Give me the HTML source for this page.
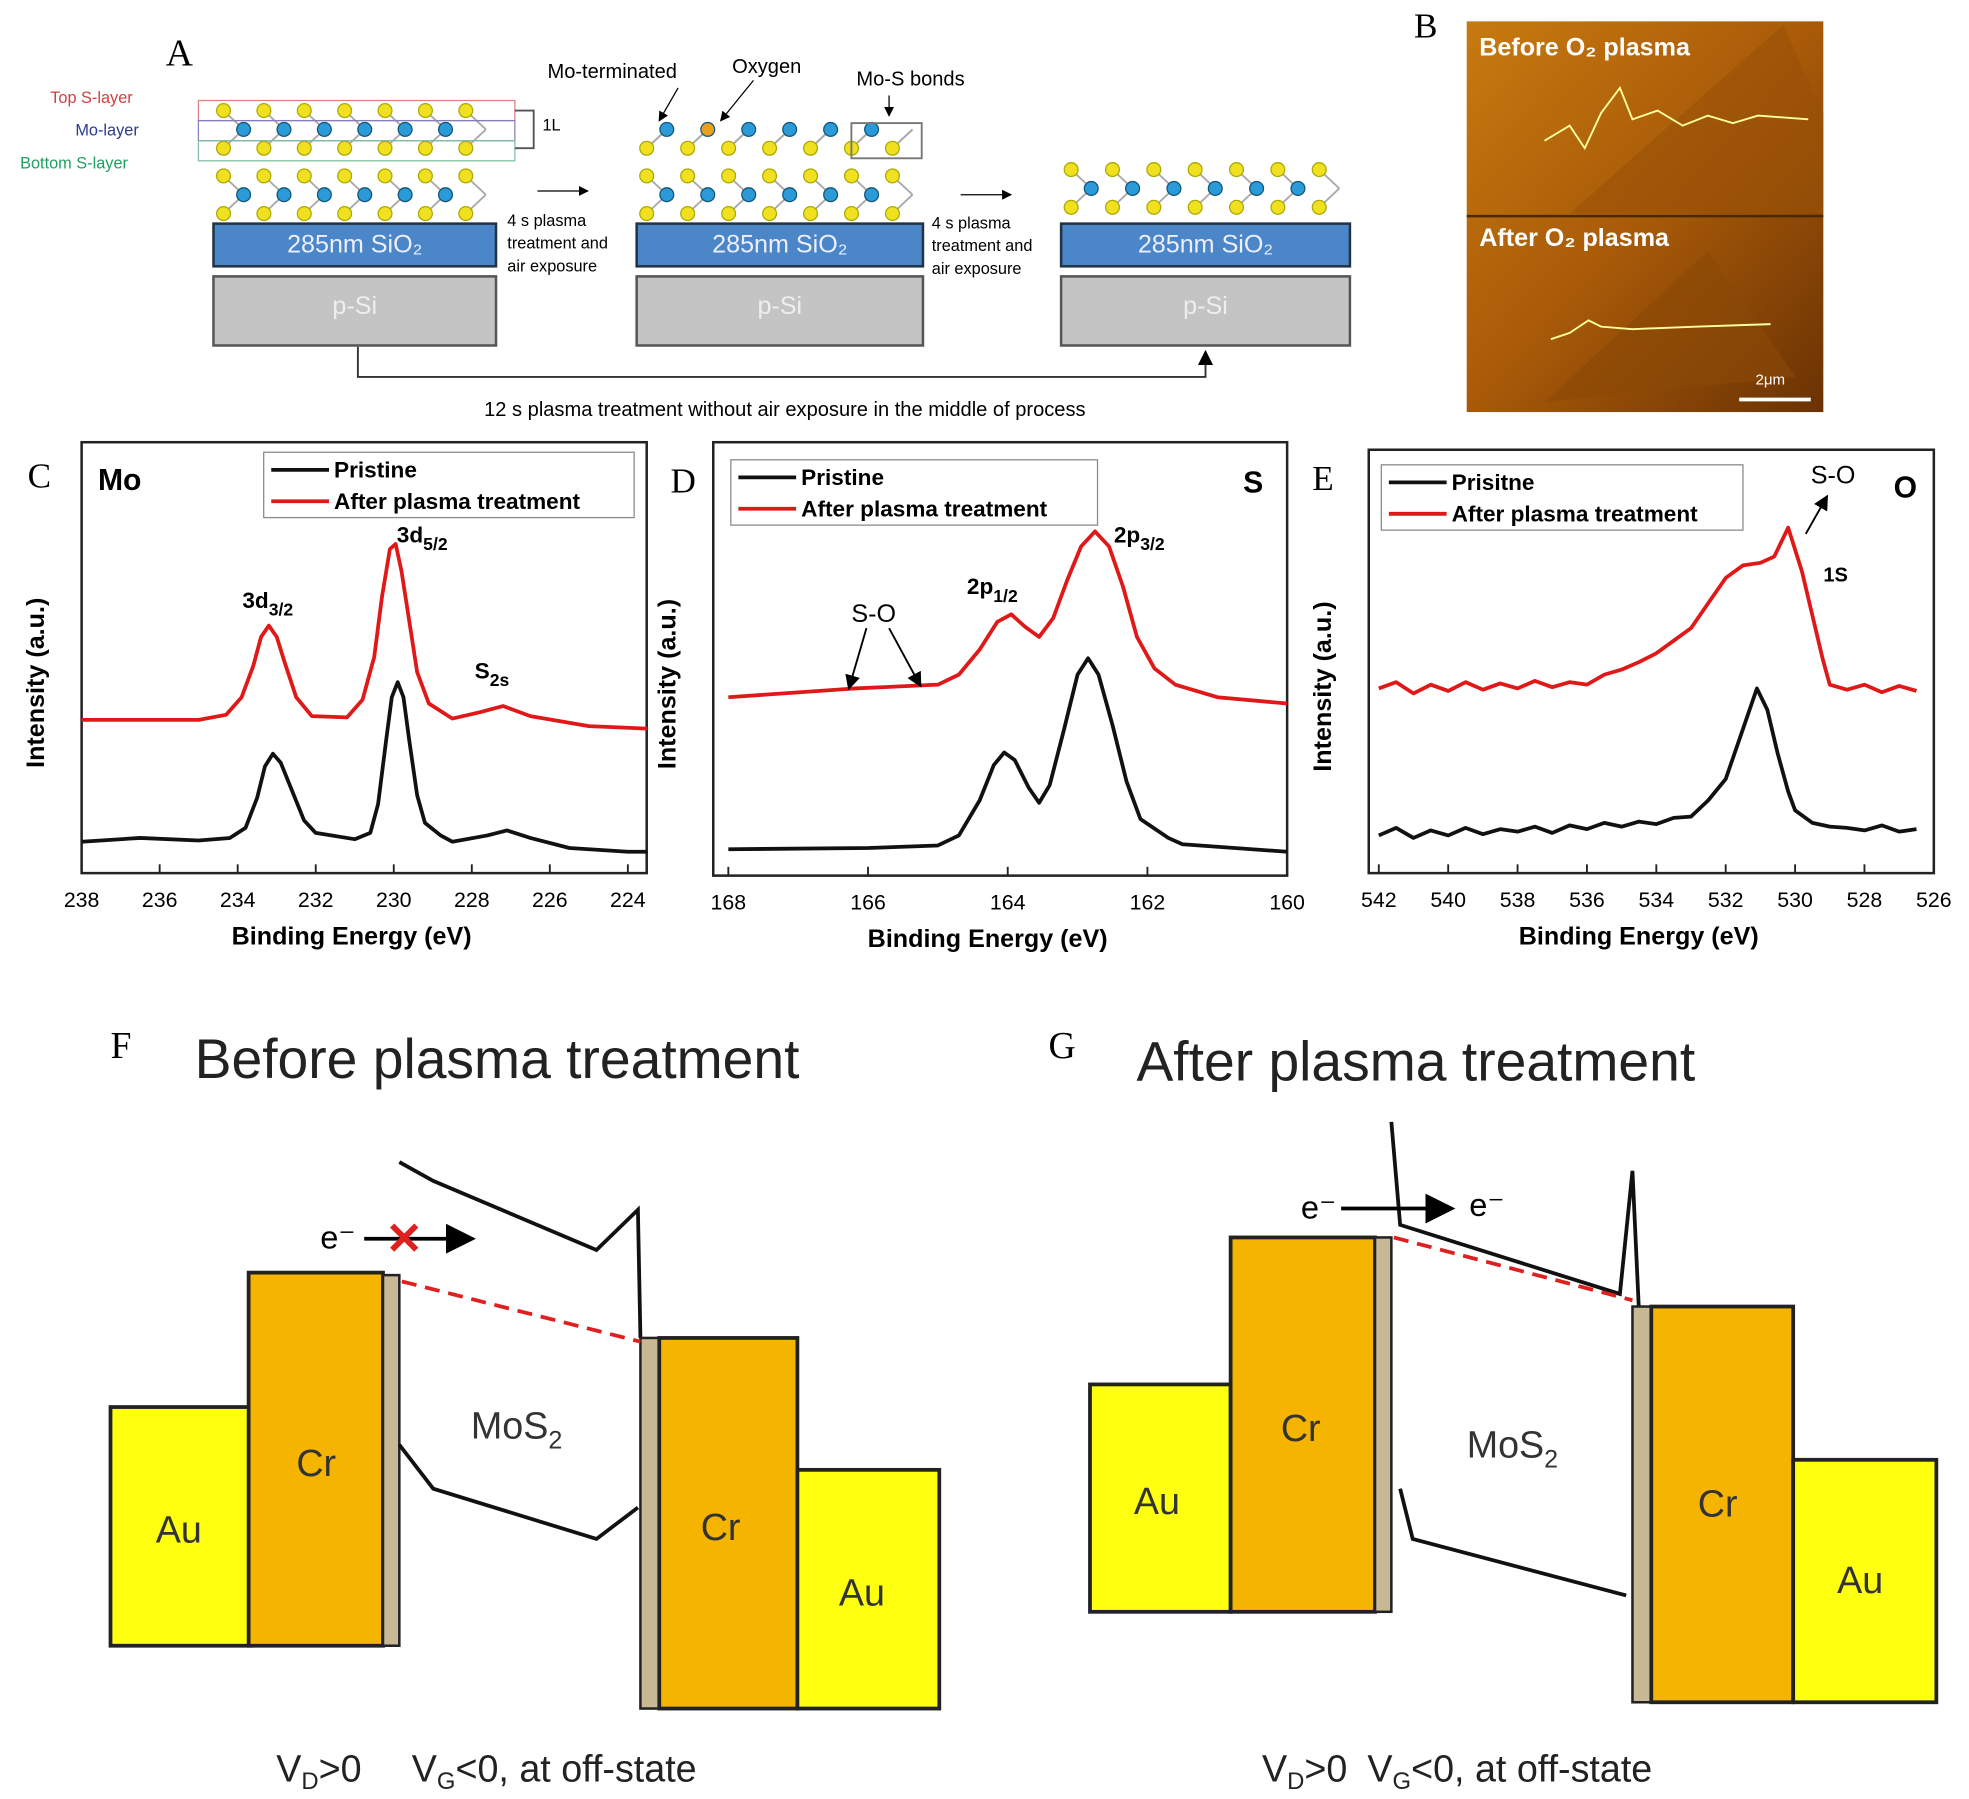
<!DOCTYPE html>
<html><head><meta charset="utf-8"><style>
html,body{margin:0;padding:0;background:#fff}
svg{display:block;font-family:"Liberation Sans",Arial,sans-serif}
</style></head><body>
<svg id="fig" width="1969" height="1799" viewBox="0 0 1568 1432" preserveAspectRatio="none" xmlns="http://www.w3.org/2000/svg">
<defs>
<linearGradient id="afm" x1="0" y1="0" x2="1" y2="1"><stop offset="0" stop-color="#c87a10"/><stop offset="0.5" stop-color="#a85a08"/><stop offset="1" stop-color="#6a3204"/></linearGradient>
<marker id="arr" markerWidth="8" markerHeight="8" refX="7" refY="4" orient="auto"><path d="M0,0 L8,4 L0,8 z" fill="#000"/></marker>
</defs>

<g>
<text x="132" y="52" font-family="Liberation Serif,serif" font-size="30">A</text>
<g id="structs"></g>
<text x="40" y="82" font-size="13" fill="#d04040">Top S-layer</text>
<text x="60" y="108" font-size="13" fill="#2a3a90">Mo-layer</text>
<text x="16" y="134" font-size="13" fill="#20a060">Bottom S-layer</text>
<text x="432" y="104" font-size="13">1L</text>
<path d="M410,88 H425 V118 H410" fill="none" stroke="#555" stroke-width="1.5"/>
<text x="436" y="62" font-size="16">Mo-terminated</text>
<text x="583" y="58" font-size="16">Oxygen</text>
<text x="682" y="68" font-size="16">Mo-S bonds</text>
<rect x="678" y="98" width="56" height="28" fill="none" stroke="#777" stroke-width="1.5"/>
<line x1="540" y1="70" x2="525" y2="96" stroke="#000" marker-end="url(#arr)"/>
<line x1="600" y1="64" x2="574" y2="96" stroke="#000" marker-end="url(#arr)"/>
<line x1="708" y1="76" x2="708" y2="92" stroke="#000" marker-end="url(#arr)"/>
<line x1="428" y1="152" x2="468" y2="152" stroke="#000" marker-end="url(#arr)"/>
<line x1="765" y1="155" x2="805" y2="155" stroke="#000" marker-end="url(#arr)"/>
<text font-size="13"><tspan x="404" y="180">4 s plasma</tspan><tspan x="404" y="198">treatment and</tspan><tspan x="404" y="216">air exposure</tspan></text>
<text font-size="13"><tspan x="742" y="182">4 s plasma</tspan><tspan x="742" y="200">treatment and</tspan><tspan x="742" y="218">air exposure</tspan></text>
<path d="M285,276 V300 H960 V280" fill="none" stroke="#333" stroke-width="1.5" marker-end="url(#arr)"/>
<text x="625" y="331" font-size="16" text-anchor="middle">12 s plasma treatment without air exposure in the middle of process</text>
</g>

<g>
<text x="1126" y="30" font-family="Liberation Serif,serif" font-size="28">B</text>
<rect x="1168" y="17" width="284" height="311" fill="url(#afm)"/>
<path d="M1250,170 L1420,20 L1452,90 L1452,170 Z" fill="#9a5208" opacity="0.6"/>
<path d="M1230,320 L1360,200 L1430,300 Z" fill="#8a4a06" opacity="0.6"/>
<line x1="1168" y1="172" x2="1452" y2="172" stroke="#4a2a04" stroke-width="2"/>
<text x="1178" y="44" font-size="20" font-weight="bold" fill="#fff">Before O₂ plasma</text>
<text x="1178" y="196" font-size="20" font-weight="bold" fill="#fff">After O₂ plasma</text>
<polyline points="1230,112 1250,100 1262,118 1275,90 1290,70 1300,95 1320,88 1340,100 1360,92 1380,98 1400,92 1440,95" fill="none" stroke="#ffffa0" stroke-width="1.5"/>
<polyline points="1235,270 1250,265 1265,255 1275,260 1300,262 1350,260 1410,258" fill="none" stroke="#ffffa0" stroke-width="1.5"/>
<line x1="1385" y1="318" x2="1442" y2="318" stroke="#fff" stroke-width="3"/>
<text x="1398" y="306" font-size="12" fill="#fff">2μm</text>
</g>

<g id="charts"></g>

<g>
<text x="88" y="842" font-family="Liberation Serif,serif" font-size="30">F</text>
<text x="155" y="858" font-size="44" fill="#222">Before plasma treatment</text>
<rect x="88" y="1120" width="112" height="190" fill="#ffff10" stroke="#222" stroke-width="3"/>
<rect x="198" y="1013" width="107" height="297" fill="#f5b400" stroke="#222" stroke-width="3"/>
<rect x="305" y="1015" width="13" height="295" fill="#c8b896" stroke="#222" stroke-width="2"/>
<path d="M318,925 L345,940 L475,995 L508,963 L510,1065" fill="none" stroke="#111" stroke-width="3"/>
<path d="M318,1150 L345,1185 L475,1225 L508,1200" fill="none" stroke="#111" stroke-width="3"/>
<rect x="510" y="1065" width="15" height="295" fill="#c8b896" stroke="#222" stroke-width="2"/>
<rect x="525" y="1065" width="110" height="295" fill="#f5b400" stroke="#222" stroke-width="3"/>
<rect x="635" y="1170" width="113" height="190" fill="#ffff10" stroke="#222" stroke-width="3"/>
<line x1="320" y1="1020" x2="510" y2="1068" stroke="#e02020" stroke-width="3" stroke-dasharray="12,7"/>
<text x="255" y="994" font-size="26">e⁻</text>
<line x1="290" y1="986" x2="376" y2="986" stroke="#000" stroke-width="3" marker-end="url(#arr)"/>
<text x="322" y="998" font-size="36" fill="#e02020" text-anchor="middle" font-weight="bold">✕</text>
<text x="375" y="1145" font-size="30" fill="#333">MoS<tspan font-size="20" dy="8">2</tspan></text>
<text x="236" y="1175" font-size="30" fill="#333">Cr</text>
<text x="124" y="1228" font-size="30" fill="#333">Au</text>
<text x="558" y="1226" font-size="30" fill="#333">Cr</text>
<text x="668" y="1278" font-size="30" fill="#333">Au</text>
<text x="220" y="1418" font-size="30" fill="#222">V<tspan font-size="19" dy="6">D</tspan><tspan dy="-6">&gt;0</tspan><tspan dx="40">V</tspan><tspan font-size="19" dy="6">G</tspan><tspan dy="-6">&lt;0, at off-state</tspan></text>
</g>

<g>
<text x="835" y="842" font-family="Liberation Serif,serif" font-size="30">G</text>
<text x="905" y="860" font-size="44" fill="#222">After plasma treatment</text>
<rect x="868" y="1102" width="112" height="181" fill="#ffff10" stroke="#222" stroke-width="3"/>
<rect x="980" y="985" width="115" height="298" fill="#f5b400" stroke="#222" stroke-width="3"/>
<rect x="1095" y="985" width="13" height="298" fill="#c8b896" stroke="#222" stroke-width="2"/>
<path d="M1108,893 L1115,975 L1290,1030 L1300,932 L1305,1040" fill="none" stroke="#111" stroke-width="3"/>
<path d="M1115,1185 L1125,1225 L1295,1270" fill="none" stroke="#111" stroke-width="3"/>
<rect x="1300" y="1040" width="15" height="315" fill="#c8b896" stroke="#222" stroke-width="2"/>
<rect x="1315" y="1040" width="113" height="315" fill="#f5b400" stroke="#222" stroke-width="3"/>
<rect x="1428" y="1162" width="114" height="193" fill="#ffff10" stroke="#222" stroke-width="3"/>
<line x1="1110" y1="985" x2="1300" y2="1035" stroke="#e02020" stroke-width="3" stroke-dasharray="12,7"/>
<text x="1036" y="970" font-size="26">e⁻</text>
<line x1="1068" y1="962" x2="1156" y2="962" stroke="#000" stroke-width="3" marker-end="url(#arr)"/>
<text x="1170" y="968" font-size="26">e⁻</text>
<text x="1168" y="1160" font-size="30" fill="#333">MoS<tspan font-size="20" dy="8">2</tspan></text>
<text x="1020" y="1147" font-size="30" fill="#333">Cr</text>
<text x="903" y="1205" font-size="30" fill="#333">Au</text>
<text x="1352" y="1207" font-size="30" fill="#333">Cr</text>
<text x="1463" y="1268" font-size="30" fill="#333">Au</text>
<text x="1005" y="1418" font-size="30" fill="#222">V<tspan font-size="19" dy="6">D</tspan><tspan dy="-6">&gt;0</tspan><tspan dx="16">V</tspan><tspan font-size="19" dy="6">G</tspan><tspan dy="-6">&lt;0, at off-state</tspan></text>
</g>
</svg>
<script>
// ---- chart data ----
const moTicks = [238,236,234,232,230,228,226,224];
const moPristine = [[238,25],[236.5,28],[235,26],[234.2,28],[233.8,36],[233.5,60],[233.3,85],[233.1,95],[232.9,88],[232.6,65],[232.3,42],[232,32],[231,27],[230.6,32],[230.4,55],[230.2,105],[230.05,140],[229.9,152],[229.75,140],[229.6,105],[229.4,62],[229.2,40],[228.8,30],[228.5,25],[227.6,30],[227.1,34],[226.5,28],[225.5,20],[224,17],[223.5,17]];
const moPlasma = [[238,122],[235,122],[234.3,126],[233.9,140],[233.6,165],[233.4,188],[233.2,197],[233,188],[232.8,168],[232.5,140],[232.1,125],[231.2,124],[230.8,138],[230.5,172],[230.3,220],[230.1,258],[229.95,262],[229.8,240],[229.6,200],[229.4,160],[229.1,135],[228.5,123],[227.8,128],[227.2,133],[226.5,125],[225,117],[223.5,115]];
const sTicks = [168,166,164,162,160];
const sPristine = [[168,21],[166,22],[165,24],[164.7,32],[164.4,60],[164.2,88],[164.05,98],[163.9,92],[163.7,70],[163.55,58],[163.4,72],[163.2,115],[163,160],[162.85,173],[162.7,160],[162.5,120],[162.3,75],[162.1,45],[161.7,30],[161.5,25],[160,19]];
const sPlasma = [[168,142],[166.2,149],[165,152],[164.7,160],[164.4,180],[164.15,202],[163.95,208],[163.75,198],[163.55,190],[163.35,205],[163.15,235],[162.95,262],[162.75,274],[162.55,262],[162.35,230],[162.15,190],[161.9,165],[161.6,152],[161,142],[160,137]];
const oTicks = [542,540,538,536,534,532,530,528,526];
const oPristine = [[542,30],[541.5,36],[541,28],[540.5,34],[540,30],[539.5,36],[539,31],[538.5,35],[538,33],[537.5,37],[537,32],[536.5,38],[536,35],[535.5,40],[535,37],[534.5,41],[534,39],[533.5,44],[533,45],[532.5,58],[532,75],[531.5,115],[531.1,147],[530.8,130],[530.5,95],[530.2,65],[530,50],[529.5,40],[529,37],[528.5,36],[528,34],[527.5,38],[527,33],[526.5,35]];
const oPlasma = [[542,147],[541.5,152],[541,143],[540.5,150],[540,145],[539.5,152],[539,146],[538.5,151],[538,147],[537.5,153],[537,148],[536.5,152],[536,150],[535.5,158],[535,162],[534.5,168],[534,175],[533.5,185],[533,195],[532.5,215],[532,235],[531.5,245],[531,247],[530.6,252],[530.2,275],[529.8,240],[529.5,205],[529.2,170],[529,150],[528.5,146],[528,150],[527.5,144],[527,149],[526.5,145]];

const NS='http://www.w3.org/2000/svg';
function mk(tag, attrs, parent){const e=document.createElementNS(NS,tag);for(const k in attrs)e.setAttribute(k,attrs[k]);parent.appendChild(e);return e;}
const charts=document.getElementById('charts');

function chart(cfg){
  const g=mk('g',{},charts);
  
  
  const xS=v=>cfg.x0+(cfg.e0-v)*(cfg.x1-cfg.x0)/(cfg.e0-cfg.e1);
  const yS=v=>cfg.yb-v;
  const frame=mk('rect',{x:cfg.L,y:cfg.T,width:cfg.R-cfg.L,height:cfg.yb-cfg.T,fill:'none',stroke:'#222','stroke-width':2},g);
  
  
  cfg.ticks.forEach(t=>{
    const x=xS(t);
    mk('line',{x1:x,y1:cfg.yb,x2:x,y2:cfg.yb-7,stroke:'#222','stroke-width':1.5},g);
    const tl=mk('text',{x:x,y:cfg.yb+27,'font-size':17,'text-anchor':'middle'},g);
    tl.textContent=t;
    
    
  });
  const xt=mk('text',{x:(cfg.L+cfg.R)/2-10,y:cfg.yb+57,'font-size':20,'font-weight':'bold','text-anchor':'middle'},g);
  xt.textContent='Binding Energy (eV)';
  
  
  const yt=mk('text',{x:0,y:0,'font-size':20,'font-weight':'bold','text-anchor':'middle',transform:`translate(${cfg.L-30},${(cfg.T+cfg.yb)/2+20}) rotate(-90)`},g);
  yt.textContent='Intensity (a.u.)';
  
  
  [[cfg.black,'#111','pristine-line'],[cfg.red,'#e01818','plasma-line']].forEach(([d,c,n])=>{
    const p=mk('polyline',{points:d.map(q=>xS(q[0]).toFixed(1)+','+yS(q[1]).toFixed(1)).join(' '),fill:'none',stroke:c,'stroke-width':3,'stroke-linejoin':'round'},g);
    
    
  });
  const lg=mk('g',{},g);
  
  
  mk('rect',{x:cfg.lx,y:cfg.ly,width:cfg.lw,height:52,fill:'#fff',stroke:'#888','stroke-width':1},lg);
  mk('line',{x1:cfg.lx+6,y1:cfg.ly+14,x2:cfg.lx+52,y2:cfg.ly+14,stroke:'#111','stroke-width':3},lg);
  mk('line',{x1:cfg.lx+6,y1:cfg.ly+39,x2:cfg.lx+52,y2:cfg.ly+39,stroke:'#e01818','stroke-width':3},lg);
  const a=mk('text',{x:cfg.lx+56,y:cfg.ly+20,'font-size':18,'font-weight':'bold'},lg);a.textContent=cfg.l1;
  const b=mk('text',{x:cfg.lx+56,y:cfg.ly+45,'font-size':18,'font-weight':'bold'},lg);b.textContent='After plasma treatment';
  const pl=mk('text',{x:cfg.px,y:cfg.py,'font-family':'Liberation Serif,serif','font-size':28},g);pl.textContent=cfg.letter;
  
  
  const el=mk('text',{x:cfg.ex,y:cfg.ey,'font-size':24,'font-weight':'bold'},g);el.textContent=cfg.elem;
  
  
  return g;
}
const gC=chart({name:'chart-mo',L:65,R:515,T:352,yb:695,x0:65,x1:500,e0:238,e1:224,ticks:moTicks,black:moPristine,red:moPlasma,lx:210,ly:360,lw:295,l1:'Pristine',letter:'C',px:22,py:388,elem:'Mo',ex:78,ey:390});
const gD=chart({name:'chart-s',L:568,R:1025,T:352,yb:697,x0:580,x1:1025,e0:168,e1:160,ticks:sTicks,black:sPristine,red:sPlasma,lx:582,ly:366,lw:292,l1:'Pristine',letter:'D',px:534,py:392,elem:'S',ex:990,ey:392});
const gE=chart({name:'chart-o',L:1090,R:1540,T:358,yb:695,x0:1098,x1:1540,e0:542,e1:526,ticks:oTicks,black:oPristine,red:oPlasma,lx:1100,ly:370,lw:288,l1:'Prisitne',letter:'E',px:1045,py:390,elem:'O',ex:1508,ey:396});
function ann(g,x,y,t,sub,fs){const e=mk('text',{x:x,y:y,'font-size':fs||18,'font-weight':'bold'},g);e.textContent=t;if(sub){const s=mk('tspan',{'font-size':14,dy:6},e);s.textContent=sub;}}
ann(gC,193,484,'3d','3/2');ann(gC,316,432,'3d','5/2');ann(gC,378,540,'S','2s');
ann(gD,770,473,'2p','1/2');ann(gD,887,432,'2p','3/2');
const so=mk('text',{x:678,y:495,'font-size':20},gD);so.textContent='S-O';
mk('line',{x1:690,y1:500,x2:676,y2:548,stroke:'#000','stroke-width':1.5,'marker-end':'url(#arr)'},gD);
mk('line',{x1:708,y1:500,x2:733,y2:546,stroke:'#000','stroke-width':1.5,'marker-end':'url(#arr)'},gD);
const so2=mk('text',{x:1442,y:385,'font-size':20},gE);so2.textContent='S-O';
mk('line',{x1:1438,y1:425,x2:1455,y2:395,stroke:'#000','stroke-width':1.5,'marker-end':'url(#arr)'},gE);
ann(gE,1452,463,'1S',null,16);

const st=document.getElementById('structs');
[[170,395],[507,735],[845,1075]].forEach(([x0,x1],i)=>{
  mk('rect',{x:x0,y:220,width:x1-x0,height:55,fill:'#c4c4c4',stroke:'#555','stroke-width':2},st);
  mk('rect',{x:x0,y:178,width:x1-x0,height:34,fill:'#4a86c8',stroke:'#234','stroke-width':2},st);
  const t=mk('text',{x:(x0+x1)/2,y:201,'font-size':20,fill:'#eef','text-anchor':'middle'},st);t.textContent='285nm SiO₂';
  const p=mk('text',{x:(x0+x1)/2,y:250,'font-size':20,fill:'#eee','text-anchor':'middle'},st);p.textContent='p-Si';
  const layers = i===0?[[88,118,103],[140,170,155]]:(i===1?[[118,118,103],[140,170,155]]:[[135,165,150]]);
  layers.forEach(([yt,yb,ym])=>{
    for(let k=0;k<7;k++){
      const x=x0+8+k*((x1-x0-16)/6.5);
      mk('line',{x1:x,y1:yt,x2:x+16,y2:ym,stroke:'#aaa','stroke-width':1.5},st);
      mk('line',{x1:x,y1:yb,x2:x+16,y2:ym,stroke:'#aaa','stroke-width':1.5},st);
      if(i!==1||yt!==118) mk('circle',{cx:x,cy:yt,r:5.5,fill:'#f0e020',stroke:'#aa0'},st);
      mk('circle',{cx:x,cy:yb,r:5.5,fill:'#f0e020',stroke:'#aa0'},st);
      if(k<6) mk('circle',{cx:x+16,cy:ym,r:5.5,fill:(i===1&&yt===118&&k===1)?'#e8a020':'#2a9ad8',stroke:'#157'},st);
    }
  });
});
mk('rect',{x:158,y:80,width:252,height:16,fill:'none',stroke:'#e08080','stroke-width':1},st);
mk('rect',{x:158,y:96,width:252,height:16,fill:'none',stroke:'#8080c0','stroke-width':1},st);
mk('rect',{x:158,y:112,width:252,height:16,fill:'none',stroke:'#80c0a0','stroke-width':1},st);
</script>
</body></html>
